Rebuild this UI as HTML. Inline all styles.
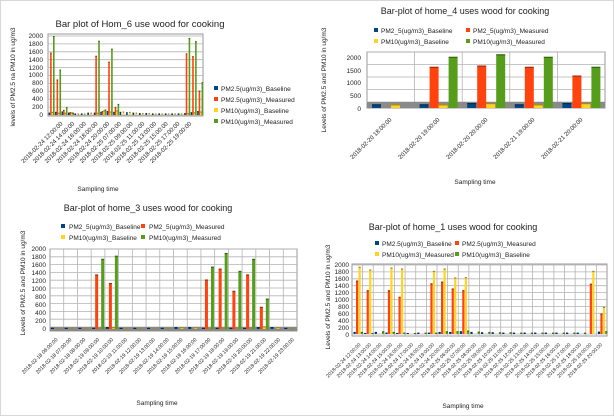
<!DOCTYPE html>
<html><head><meta charset="utf-8"><style>
html,body{margin:0;padding:0;background:#fff;}
svg{display:block;font-family:"Liberation Sans",sans-serif;}
</style></head><body>
<svg id="s" width="614" height="416" viewBox="0 0 614 416" xmlns="http://www.w3.org/2000/svg">
<rect x="0.5" y="0.5" width="613" height="415" fill="#fff" stroke="#d8d8d8"/>
<g id="g"></g>
<g fill="#222">
<!-- Chart 1 -->
<text x="140" y="27" font-size="9.5" text-anchor="middle">Bar plot of Hom_6 use wood for cooking</text>
<text transform="translate(15,77) rotate(-90)" font-size="6.5" text-anchor="middle">levels of PM2.5 na PM10 in ug/m3</text>
<g font-size="6.5" text-anchor="end">
<text x="43" y="38">2000</text><text x="43" y="46">1800</text><text x="43" y="54">1600</text><text x="43" y="62">1400</text><text x="43" y="70">1200</text><text x="43" y="77">1000</text><text x="43" y="85">800</text><text x="43" y="93">600</text><text x="43" y="101">400</text><text x="43" y="109">200</text><text x="43" y="117">0</text>
</g>
<g font-size="6.5">
<rect x="214" y="86" width="4" height="4" fill="#004586"/><text x="221" y="91">PM2.5(ug/m3)_Baseline</text>
<rect x="214" y="97" width="4" height="4" fill="#ff420e"/><text x="221" y="102">PM2.5(ug/m3)_Measured</text>
<rect x="214" y="108" width="4" height="4" fill="#ffd320"/><text x="221" y="113">PM10(ug/m3)_Baseline</text>
<rect x="214" y="119" width="4" height="4" fill="#579d1c"/><text x="221" y="124">PM10(ug/m3)_Measured</text>
</g>
<g font-size="6" text-anchor="end">
<text transform="translate(63,124) rotate(-45)">2018-02-24 12:00:00</text>
<text transform="translate(74.7,124) rotate(-45)">2018-02-24 14:00:00</text>
<text transform="translate(86.4,124) rotate(-45)">2018-02-24 16:00:00</text>
<text transform="translate(98.1,124) rotate(-45)">2018-02-24 18:00:00</text>
<text transform="translate(109.8,124) rotate(-45)">2018-02-24 20:00:00</text>
<text transform="translate(121.5,124) rotate(-45)">2018-02-25 07:00:00</text>
<text transform="translate(133.2,124) rotate(-45)">2018-02-25 09:00:00</text>
<text transform="translate(144.9,124) rotate(-45)">2018-02-25 11:00:00</text>
<text transform="translate(156.6,124) rotate(-45)">2018-02-25 13:00:00</text>
<text transform="translate(168.3,124) rotate(-45)">2018-02-25 15:00:00</text>
<text transform="translate(180,124) rotate(-45)">2018-02-25 17:00:00</text>
<text transform="translate(191.7,124) rotate(-45)">2018-02-25 19:00:00</text>
</g>
<text x="98" y="191" font-size="6.5" text-anchor="middle">Sampling time</text>

<!-- Chart 2 -->
<text x="465" y="14" font-size="9" text-anchor="middle">Bar-plot of home_4 uses wood for cooking</text>
<g font-size="6.5">
<rect x="374" y="28" width="4" height="4" fill="#004586"/><text x="381" y="33">PM2_5(ug/m3)_Baseline</text>
<rect x="466" y="28" width="4" height="4" fill="#ff420e"/><text x="473" y="33">PM2_5(ug/m3)_Measured</text>
<rect x="374" y="39" width="4" height="4" fill="#ffd320"/><text x="381" y="44">PM10(ug/m3)_Baseline</text>
<rect x="466" y="39" width="4" height="4" fill="#579d1c"/><text x="473" y="44">PM10(ug/m3)_Measured</text>
</g>
<text transform="translate(326,80) rotate(-90)" font-size="6.5" text-anchor="middle">Levels of PM2.5 and PM10 in ug/m3</text>
<g font-size="6.5" text-anchor="end">
<text x="361" y="60">2000</text><text x="361" y="73">1500</text><text x="361" y="85">1000</text><text x="361" y="98">500</text><text x="361" y="111">0</text>
</g>
<g font-size="6" text-anchor="end">
<text transform="translate(392,120) rotate(-45)">2018-02-20 18:00:00</text>
<text transform="translate(440,120) rotate(-45)">2018-02-20 19:00:00</text>
<text transform="translate(488,120) rotate(-45)">2018-02-20 20:00:00</text>
<text transform="translate(535,120) rotate(-45)">2018-02-21 19:00:00</text>
<text transform="translate(583,120) rotate(-45)">2018-02-21 20:00:00</text>
</g>
<text x="475" y="184" font-size="6.5" text-anchor="middle">Sampling time</text>

<!-- Chart 3 -->
<text x="148" y="211" font-size="9" text-anchor="middle">Bar-plot of home_3 uses wood for cooking</text>
<g font-size="6.5">
<rect x="61" y="224" width="4" height="4" fill="#004586"/><text x="69" y="229">PM2_5(ug/m3)_Baseline</text>
<rect x="141" y="224" width="4" height="4" fill="#ff420e"/><text x="149" y="229">PM2_5(ug/m3)_Measured</text>
<rect x="61" y="235" width="4" height="4" fill="#ffd320"/><text x="69" y="240">PM10(ug/m3)_Baseline</text>
<rect x="141" y="235" width="4" height="4" fill="#579d1c"/><text x="149" y="240">PM10(ug/m3)_Measured</text>
</g>
<text transform="translate(25,283) rotate(-90)" font-size="6.5" text-anchor="middle">Levels of PM2.5 and PM10 in ug/m3</text>
<g font-size="6.5" text-anchor="end">
<text x="46" y="251">2000</text><text x="46" y="259">1800</text><text x="46" y="267">1600</text><text x="46" y="275">1400</text><text x="46" y="283">1200</text><text x="46" y="291">1000</text><text x="46" y="299">800</text><text x="46" y="307">600</text><text x="46" y="315">400</text><text x="46" y="323">200</text><text x="46" y="331">0</text>
</g>
<g font-size="5.2" text-anchor="end">
<text transform="translate(58,340) rotate(-45)">2018-02-18 06:00:00</text>
<text transform="translate(71.9,340) rotate(-45)">2018-02-18 07:00:00</text>
<text transform="translate(85.8,340) rotate(-45)">2018-02-18 08:00:00</text>
<text transform="translate(99.7,340) rotate(-45)">2018-02-19 09:00:00</text>
<text transform="translate(113.6,340) rotate(-45)">2018-02-19 10:00:00</text>
<text transform="translate(127.5,340) rotate(-45)">2018-02-19 11:00:00</text>
<text transform="translate(141.4,340) rotate(-45)">2018-02-19 12:00:00</text>
<text transform="translate(155.3,340) rotate(-45)">2018-02-19 13:00:00</text>
<text transform="translate(169.2,340) rotate(-45)">2018-02-19 14:00:00</text>
<text transform="translate(183.1,340) rotate(-45)">2018-02-19 15:00:00</text>
<text transform="translate(197,340) rotate(-45)">2018-02-19 16:00:00</text>
<text transform="translate(210.9,340) rotate(-45)">2018-02-19 17:00:00</text>
<text transform="translate(224.8,340) rotate(-45)">2018-02-19 18:00:00</text>
<text transform="translate(238.7,340) rotate(-45)">2018-02-19 19:00:00</text>
<text transform="translate(252.6,340) rotate(-45)">2018-02-19 20:00:00</text>
<text transform="translate(266.5,340) rotate(-45)">2018-02-19 21:00:00</text>
<text transform="translate(280.4,340) rotate(-45)">2018-02-19 22:00:00</text>
<text transform="translate(294.3,340) rotate(-45)">2018-02-19 23:00:00</text>
</g>
<text x="157" y="405" font-size="6.5" text-anchor="middle">Sampling time</text>

<!-- Chart 4 -->
<text x="453" y="230" font-size="9" text-anchor="middle">Bar-plot of home_1 uses wood for cooking</text>
<g font-size="6.5">
<rect x="375" y="241" width="4" height="4" fill="#004586"/><text x="382" y="246">PM2.5(ug/m3)_Baseline</text>
<rect x="455" y="241" width="4" height="4" fill="#ff420e"/><text x="462" y="246">PM2.5(ug/m3)_Measured</text>
<rect x="375" y="252" width="4" height="4" fill="#ffd320"/><text x="382" y="257">PM10(ug/m3)_Measured</text>
<rect x="455" y="252" width="4" height="4" fill="#579d1c"/><text x="462" y="257">PM10(ug/m3)_Baseline</text>
</g>
<text transform="translate(330,297) rotate(-90)" font-size="6.5" text-anchor="middle">Levels of PM2.5 and PM10 in ug/m3</text>
<g font-size="6.5" text-anchor="end">
<text x="349" y="267">2000</text><text x="349" y="274">1800</text><text x="349" y="281">1600</text><text x="349" y="288">1400</text><text x="349" y="295">1200</text><text x="349" y="302">1000</text><text x="349" y="309">800</text><text x="349" y="316">600</text><text x="349" y="323">400</text><text x="349" y="330">200</text><text x="349" y="337">0</text>
</g>
<g font-size="5" text-anchor="end">
<text transform="translate(361,345) rotate(-45)">2018-02-24 12:00:00</text>
<text transform="translate(371.5,345) rotate(-45)">2018-02-24 13:00:00</text>
<text transform="translate(382,345) rotate(-45)">2018-02-24 14:00:00</text>
<text transform="translate(392.5,345) rotate(-45)">2018-02-24 15:00:00</text>
<text transform="translate(403,345) rotate(-45)">2018-02-24 16:00:00</text>
<text transform="translate(413.5,345) rotate(-45)">2018-02-24 17:00:00</text>
<text transform="translate(424,345) rotate(-45)">2018-02-24 18:00:00</text>
<text transform="translate(434.5,345) rotate(-45)">2018-02-24 19:00:00</text>
<text transform="translate(445,345) rotate(-45)">2018-02-24 20:00:00</text>
<text transform="translate(455.5,345) rotate(-45)">2018-02-25 06:00:00</text>
<text transform="translate(466,345) rotate(-45)">2018-02-25 07:00:00</text>
<text transform="translate(476.5,345) rotate(-45)">2018-02-25 08:00:00</text>
<text transform="translate(487,345) rotate(-45)">2018-02-25 09:00:00</text>
<text transform="translate(497.5,345) rotate(-45)">2018-02-25 10:00:00</text>
<text transform="translate(508,345) rotate(-45)">2018-02-25 11:00:00</text>
<text transform="translate(518.5,345) rotate(-45)">2018-02-25 12:00:00</text>
<text transform="translate(529,345) rotate(-45)">2018-02-25 13:00:00</text>
<text transform="translate(539.5,345) rotate(-45)">2018-02-25 14:00:00</text>
<text transform="translate(550,345) rotate(-45)">2018-02-25 15:00:00</text>
<text transform="translate(560.5,345) rotate(-45)">2018-02-25 16:00:00</text>
<text transform="translate(571,345) rotate(-45)">2018-02-25 17:00:00</text>
<text transform="translate(581.5,345) rotate(-45)">2018-02-25 18:00:00</text>
<text transform="translate(592,345) rotate(-45)">2018-02-25 19:00:00</text>
<text transform="translate(602.5,345) rotate(-45)">2018-02-25 20:00:00</text>
</g>
<text x="463" y="408" font-size="6.5" text-anchor="middle">Sampling time</text>
</g>
</svg>
<script>
var g=document.getElementById('g'),NS="http://www.w3.org/2000/svg";
function r(x,y,w,h,f,s){var e=document.createElementNS(NS,'rect');e.setAttribute('x',x);e.setAttribute('y',y);e.setAttribute('width',w);e.setAttribute('height',Math.max(h,0));e.setAttribute('fill',f);if(s)e.setAttribute('stroke',s);g.appendChild(e);}
function l(x1,y1,x2,y2,c){var e=document.createElementNS(NS,'line');e.setAttribute('x1',x1);e.setAttribute('y1',y1);e.setAttribute('x2',x2);e.setAttribute('y2',y2);e.setAttribute('stroke',c||'#b3b3b3');e.setAttribute('stroke-width','0.8');g.appendChild(e);}
var C=['#004586','#ff420e','#ffd320','#579d1c'];
function chart(o){
  var n=o.d.length,cw=(o.x1-o.x0)/n;
  r(o.x0,o.yt,o.x1-o.x0,o.yb-o.yt,'#fff','#999');
  for(var v=0;v<=o.max;v+=o.step){var y=o.gb-(o.gb-o.gt)*v/o.max;l(o.x0,y,o.x1,y);}
  if(o.vg)for(var i=1;i<n;i++)l(o.x0+i*cw,o.yt,o.x0+i*cw,o.yb);
  if(o.floor)r(o.x0,o.floor[0],o.x1-o.x0,o.floor[1],'#8a8a8a');
  for(var i=0;i<n;i++)for(var k=0;k<4;k++){var v=o.d[i][k];if(!v)continue;
    var h=v/o.max*(o.b0-o.top),x=o.x0+i*cw+o.off[k],col=o.c?o.c[k]:C[k];
    r(x,o.b0-h,o.bw,h,col);r(x,o.b0-h,o.bw,Math.min(1.2,h),'rgba(0,0,0,0.35)');}
}
chart({x0:48,x1:203,yt:34,yb:116,gt:36,gb:115,max:2000,step:200,b0:115,top:36,bw:1.6,off:[0.6,2.1,3.6,5.0],
d:[[60,1580,80,2000],[80,900,60,1150],[90,130,60,200],[60,70,70,60],[40,0,40,0],[40,0,40,0],[60,0,60,0],[60,1500,60,1880],[80,100,120,140],[100,1350,90,1680],[80,200,120,280],[80,0,90,0],[70,0,80,0],[60,0,60,0],[50,0,50,0],[50,0,50,0],[40,0,40,0],[40,0,40,0],[40,0,40,0],[40,0,40,0],[40,0,40,0],[50,1560,50,1950],[70,1490,70,1870],[100,620,90,830]]});
chart({x0:367,x1:605,yt:52,yb:108,gt:52,gb:102,max:2000,step:500,b0:108,top:58,bw:9,off:[5,15,24,34],floor:[102,6],vg:1,
d:[[150,0,150,0],[150,1650,150,2050],[200,1700,200,2150],[150,1650,150,2050],[200,1300,200,1650]]});
chart({x0:50,x1:297,yt:249,yb:331,gt:249,gb:327,max:2000,step:200,b0:329,top:251,bw:3,off:[1,4,7,10],floor:[327,4],vg:1,
d:[[30,0,30,0],[30,0,30,0],[30,0,30,0],[30,1400,30,1800],[50,1180,50,1880],[30,0,30,0],[30,0,30,0],[30,0,30,0],[30,0,30,0],[50,0,50,0],[50,0,50,0],[30,1270,30,1600],[30,1550,30,1950],[30,980,30,1490],[30,1400,30,1800],[50,570,70,780],[50,0,50,0],[30,0,30,0]]});
chart({x0:352,x1:607,yt:264,yb:336,gt:265,gb:334,max:2000,step:200,b0:334,top:265,bw:2.2,off:[1.5,4,6.5,8.8],vg:1,c:['#004586','#ff420e','#ffd320','#579d1c'],
d:[[60,1550,1950,60],[30,1270,1870,30],[60,0,0,80],[40,1270,1930,60],[30,1080,1900,40],[30,0,0,30],[40,0,0,40],[40,1470,1830,40],[60,1520,1900,80],[60,1320,1640,80],[80,1270,1650,100],[60,0,0,70],[50,0,0,60],[50,0,0,50],[40,0,0,50],[40,0,0,40],[40,0,0,40],[40,0,0,40],[40,0,0,40],[40,0,0,40],[40,0,0,40],[40,0,0,40],[0,1460,1830,0],[70,590,790,80]]});
</script>
</body></html>
